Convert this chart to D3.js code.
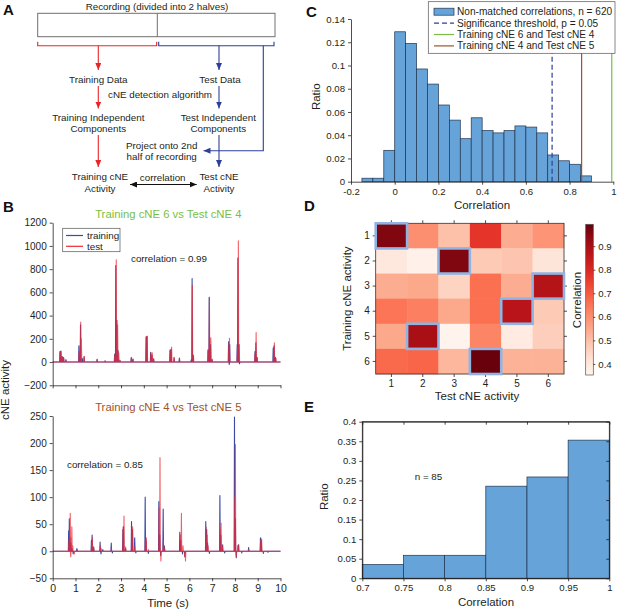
<!DOCTYPE html>
<html>
<head>
<meta charset="utf-8">
<script src="https://cdn.jsdelivr.net/npm/d3@7"></script>
<style>
  body { margin: 0; background: #fff; }
  svg { font-family: "Liberation Sans", Arial, sans-serif; }
  .tick text { fill: #231f20; }
</style>
</head>
<body>
<script>
// ---- panel B: spike data [time (s), activity]
var b1Training = [[0.32, 90], [0.36, 95], [0.42, 45], [0.48, 40], [0.58, 20],
  [1.15, 140], [1.22, 320], [1.3, 30], [1.38, 45], [1.95, 22], [2.3, 10],
  [2.72, 70], [2.77, 830], [2.82, 360], [2.87, 100], [2.95, 15], [3.45, 40], [3.52, 25],
  [4.1, 215], [4.14, 220], [4.3, 85], [4.36, 60], [4.43, 25],
  [5.15, 100], [5.2, 110], [5.33, 40], [5.56, 35],
  [6.08, 20], [6.12, 720], [6.17, 60], [6.82, 100], [6.87, 555], [6.93, 150], [7.0, 20],
  [7.72, 175], [7.75, -20], [7.77, 150], [8.1, 150], [8.13, 895], [8.17, 150], [8.2, -15],
  [8.88, 90], [8.92, 165], [8.97, 40], [9.68, 120], [9.72, 140], [9.78, 40]]
var b1Test = [[0.32, 85], [0.36, 90], [0.42, 45], [0.48, 35], [0.58, 20],
  [1.16, 90], [1.23, 345], [1.26, 200], [1.38, 50], [1.95, 25], [2.3, 10],
  [2.72, 60], [2.79, 880], [2.85, 320], [2.9, 80], [2.95, 15], [3.45, 35], [3.53, 25],
  [4.11, 220], [4.15, 225], [4.31, 80], [4.37, 80], [4.43, 30],
  [5.16, 110], [5.22, 130], [5.33, 35], [5.57, 30],
  [6.13, 660], [6.18, 50], [6.82, 110], [6.88, 560], [6.94, 210], [7.0, 25],
  [7.73, 160], [7.76, 205], [8.11, 120], [8.15, 1045], [8.19, 150],
  [8.88, 70], [8.93, 255], [8.98, 40], [9.7, 130], [9.73, 165], [9.8, 30]]
var b2Training = [[0.7, 38], [0.73, 60], [0.76, 25], [0.8, 15], [0.85, 5], [0.9, -5], [1.06, 5],
  [1.7, 20], [1.73, 30], [1.8, 8], [2.08, 17], [2.12, -5], [2.2, 3], [2.57, 15], [2.62, -3],
  [3.08, 40], [3.11, 45], [3.2, 5], [3.46, 55], [3.5, 40], [3.6, 25], [3.65, -3],
  [4.06, 100], [4.1, 20], [4.2, -4], [4.66, 92], [4.7, 30], [4.74, -8], [4.85, 78], [4.9, 10],
  [5.58, 35], [5.62, 20], [5.7, -5], [5.8, -10], [6.72, 55], [6.76, 40], [6.8, 15], [6.88, -4],
  [7.34, 103], [7.38, 30], [7.46, 12], [7.55, -3], [7.98, 248], [8.02, 60], [8.06, -12],
  [8.15, 12], [8.3, -3], [8.6, 7], [9.12, 25], [9.16, 20], [9.25, -4], [9.45, -2]]
var b2Test = [[0.71, 20], [0.74, 40], [0.77, 70], [0.79, -10], [0.81, 25], [0.84, 45], [0.88, 10],
  [0.95, -5], [1.08, 3], [1.71, 15], [1.74, 25], [1.8, 5], [2.09, 10], [2.13, 5], [2.58, 5],
  [3.09, 45], [3.13, 65], [3.2, 8], [3.47, 40], [3.51, 45], [3.6, 8],
  [4.07, 20], [4.11, 25], [4.2, 3], [4.67, 80], [4.71, 173], [4.75, -18], [4.86, 20], [4.92, 5],
  [5.6, 30], [5.65, 70], [5.72, 10], [5.8, -10], [5.83, -18], [6.73, 45], [6.78, 30], [6.82, 10],
  [7.35, 40], [7.39, 52], [7.45, 10], [7.99, 100], [8.02, 197], [8.06, -10], [8.12, 10], [8.17, 12],
  [8.6, 3], [9.13, 20], [9.17, 23], [9.25, -3]]

var b1YTicks = [-200, 0, 200, 400, 600, 800, 1000, 1200]
var b2YTicks = [-50, 0, 50, 100, 150, 200, 250]
var timeTicks = [0, 1, 2, 3, 4, 5, 6, 7, 8, 9, 10]

// ---- panel C: histogram of non-matched correlations
var cBinStarts = [-0.15, -0.1, -0.05, 0, 0.05, 0.1, 0.15, 0.2, 0.25, 0.3, 0.35, 0.4, 0.45,
  0.5, 0.55, 0.6, 0.65, 0.7, 0.75, 0.8, 0.85]
var cRatios = [0.003, 0.003, 0.027, 0.129, 0.119, 0.097, 0.084, 0.066, 0.053, 0.037, 0.055,
  0.044, 0.042, 0.044, 0.048, 0.047, 0.042, 0.023, 0.018, 0.015, 0.005]
var cThreshold = 0.72
var cPair64 = 0.993
var cPair45 = 0.855
var cXTicks = [-0.2, 0, 0.2, 0.4, 0.6, 0.8, 1]
var cYTicks = [0, 0.02, 0.04, 0.06, 0.08, 0.1, 0.12, 0.14]

// ---- panel D: correlation matrix (rows training cNE, cols test cNE)
var cneIds = [1, 2, 3, 4, 5, 6]
var corrMatrix = [
  [0.96, 0.60, 0.50, 0.77, 0.54, 0.59],
  [0.40, 0.37, 0.96, 0.48, 0.49, 0.41],
  [0.54, 0.55, 0.46, 0.66, 0.54, 0.88],
  [0.65, 0.63, 0.55, 0.66, 0.87, 0.48],
  [0.55, 0.90, 0.36, 0.62, 0.39, 0.47],
  [0.67, 0.68, 0.52, 0.99, 0.53, 0.53]
]
var matchedTest = [1, 3, 6, 5, 2, 4] // matched test cNE for each training cNE
var cbarTicks = [0.4, 0.5, 0.6, 0.7, 0.8, 0.9]

// ---- panel E: histogram of matched correlations
var eBinStarts = [0.7, 0.75, 0.8, 0.85, 0.9, 0.95]
var eRatios = [0.0353, 0.0588, 0.0588, 0.2353, 0.2588, 0.3529]
var eXTicks = [0.7, 0.75, 0.8, 0.85, 0.9, 0.95, 1]
var eYTicks = [0, 0.05, 0.1, 0.15, 0.2, 0.25, 0.3, 0.35, 0.4]

var RED = '#e8262a', BLUE = '#2e3f98', TRAIN = '#3a4aa6', TEST = '#ee2a33'
var BAR = '#66a3d8', BAR_EDGE = '#1f3550'
var GREEN = '#78c043', BROWN = '#a0522d'
var TXT = 9.8
var fmt = function (d) { return String(+d.toFixed(2)) }

var svg = d3.select('body').append('svg').attr('width', 617).attr('height', 613)

function letter(t, x, y) {
  svg.append('text').attr('x', x).attr('y', y).attr('font-size', 15)
    .attr('font-weight', 'bold').attr('fill', '#111').text(t)
}
function label(t, x, y, size, rot, color) {
  var el = svg.append('text').attr('text-anchor', 'middle').attr('font-size', size || TXT)
    .attr('fill', color || '#231f20').text(t)
  if (rot) el.attr('transform', 'translate(' + x + ',' + y + ') rotate(-90)')
  else el.attr('x', x).attr('y', y)
  return el
}
function styleAxis(g, size) {
  g.selectAll('path.domain').attr('stroke', '#231f20').attr('stroke-width', 0.8)
  g.selectAll('.tick line').attr('stroke', '#231f20').attr('stroke-width', 0.8)
  g.selectAll('.tick text').attr('font-size', size || 9.6).attr('font-family', null)
  return g
}

/**
 * panel A: diagram
 */
var defs = svg.append('defs')
;[['red', RED], ['blue', BLUE], ['black', '#111']].forEach(function (c) {
  defs.append('marker').attr('id', 'ah-' + c[0]).attr('markerUnits', 'userSpaceOnUse')
    .attr('markerWidth', 7).attr('markerHeight', 6).attr('refX', 7).attr('refY', 3)
    .attr('orient', 'auto-start-reverse')
    .append('path').attr('d', 'M0,0 L7,3 L0,6 z').attr('fill', c[1])
})
function arrow(x1, y1, x2, y2, color, both) {
  var l = svg.append('line').attr('x1', x1).attr('y1', y1).attr('x2', x2).attr('y2', y2)
    .attr('stroke', color === 'red' ? RED : color === 'blue' ? BLUE : '#111')
    .attr('stroke-width', 1.1).attr('marker-end', 'url(#ah-' + color + ')')
  if (both) l.attr('marker-start', 'url(#ah-' + color + ')')
}

letter('A', 3, 15)
label('Recording (divided into 2 halves)', 157, 10)
svg.append('rect').attr('x', 37.7).attr('y', 13.3).attr('width', 237.3).attr('height', 23.4)
  .attr('fill', 'none').attr('stroke', '#707070').attr('stroke-width', 1)
svg.append('line').attr('x1', 157.3).attr('x2', 157.3).attr('y1', 13.3).attr('y2', 36.7)
  .attr('stroke', '#707070')
svg.append('path').attr('d', 'M37.7,41.7 V45.7 H156.7 V41.7').attr('fill', 'none')
  .attr('stroke', RED).attr('stroke-width', 1.1)
svg.append('path').attr('d', 'M158.7,41.7 V45.7 H274 V41.7').attr('fill', 'none')
  .attr('stroke', BLUE).attr('stroke-width', 1.1)
arrow(98.3, 45.7, 98.3, 70, 'red')
arrow(219, 45.7, 219, 70, 'blue')
label('Training Data', 98.3, 82.5)
label('Test Data', 220, 82.5)
arrow(98.3, 86, 98.3, 108.5, 'red')
arrow(219, 86, 219, 108.5, 'blue')
label('cNE detection algorithm', 160, 97.5)
label('Training Independent', 98.3, 120.5)
label('Components', 98.3, 132)
label('Test Independent', 218.3, 120.5)
label('Components', 218.3, 132)
arrow(98.3, 135, 98.3, 167, 'red')
arrow(219, 135, 219, 167, 'blue')
svg.append('path').attr('d', 'M263.3,45.7 V150.7 H203.5').attr('fill', 'none')
  .attr('stroke', BLUE).attr('stroke-width', 1.1).attr('marker-end', 'url(#ah-blue)')
label('Project onto 2nd', 161.7, 148.5)
label('half of recording', 161.7, 159.5)
label('Training cNE', 100, 180)
label('Activity', 100, 191.5)
label('Test cNE', 219, 180)
label('Activity', 219, 191.5)
label('correlation', 162.7, 181)
arrow(130, 184.5, 196.7, 184.5, 'black', true)

/**
 * panel B: time series
 */
var xTime = d3.scaleLinear().domain([0, 10]).range([52.7, 280.5])

function spikePath(spikes) {
  var w = 0.014
  var pts = [[0, 0]]
  spikes.forEach(function (s) {
    pts.push([s[0] - w, 0], [s[0], s[1]], [s[0] + w, 0])
  })
  pts.push([10, 0])
  return pts
}

function tracePanel(y, yTicks, training, test, showX) {
  var line = d3.line().x(function (d) { return xTime(d[0]) }).y(function (d) { return y(d[1]) })
  svg.append('path').datum(spikePath(training)).attr('d', line).attr('fill', 'none')
    .attr('stroke', TRAIN).attr('stroke-width', 1.1).attr('stroke-linejoin', 'round')
  svg.append('path').datum(spikePath(test)).attr('d', line).attr('fill', 'none')
    .attr('stroke', TEST).attr('stroke-width', 1.1).attr('stroke-opacity', 0.75)
    .attr('stroke-linejoin', 'round')
  styleAxis(svg.append('g').attr('transform', 'translate(' + xTime(0) + ',0)')
    .call(d3.axisLeft(y).tickValues(yTicks).tickFormat(d3.format('d'))
      .tickSize(3).tickSizeOuter(0).tickPadding(3)), 10)
  var ax = d3.axisBottom(xTime).tickValues(timeTicks).tickSize(3).tickSizeOuter(0).tickPadding(3)
  if (!showX) ax.tickFormat('')
  styleAxis(svg.append('g').attr('transform', 'translate(0,' + y.range()[0] + ')').call(ax), 10.5)
}

letter('B', 3, 212)
var yB1 = d3.scaleLinear().domain([-200, 1200]).range([385.3, 222.7])
tracePanel(yB1, b1YTicks, b1Training, b1Test, false)
label('Training cNE 6 vs Test cNE 4', 168.3, 218, 11.3, false, GREEN)
svg.append('rect').attr('x', 62.7).attr('y', 228.3).attr('width', 57.3).attr('height', 23.4)
  .attr('fill', '#fff').attr('stroke', '#555').attr('stroke-width', 0.7)
;[['training', TRAIN, 235.5], ['test', TEST, 246.3]].forEach(function (e) {
  svg.append('line').attr('x1', 66).attr('x2', 83).attr('y1', e[2]).attr('y2', e[2])
    .attr('stroke', e[1]).attr('stroke-width', 1.2)
  svg.append('text').attr('x', 87).attr('y', e[2] + 3.3).attr('font-size', TXT)
    .attr('fill', '#231f20').text(e[0])
})
label('correlation = 0.99', 169, 262)

var yB2 = d3.scaleLinear().domain([-50, 250]).range([578.3, 416])
tracePanel(yB2, b2YTicks, b2Training, b2Test, true)
label('Training cNE 4 vs Test cNE 5', 168.3, 411, 11.3, false, BROWN)
label('correlation = 0.85', 105, 467.5)
label('cNE activity', 9, 390, 11.5, true)
label('Time (s)', 168, 607, 11.5)

/**
 * panel C: histogram
 */
letter('C', 306, 17)
var xC = d3.scaleLinear().domain([-0.2, 1]).range([351, 613.3])
var yC = d3.scaleLinear().domain([0, 0.14]).range([181.7, 19])
svg.append('g').selectAll('rect').data(cBinStarts).join('rect')
  .attr('x', function (d) { return xC(d) })
  .attr('width', function (d) { return xC(d + 0.05) - xC(d) })
  .attr('y', function (d, i) { return yC(cRatios[i]) })
  .attr('height', function (d, i) { return yC(0) - yC(cRatios[i]) })
  .attr('fill', BAR).attr('stroke', BAR_EDGE).attr('stroke-width', 0.7)
svg.append('line').attr('x1', xC(cThreshold)).attr('x2', xC(cThreshold))
  .attr('y1', yC(0)).attr('y2', yC(0.14)).attr('stroke', BLUE).attr('stroke-width', 1.2)
  .attr('stroke-dasharray', '5,3')
svg.append('line').attr('x1', xC(cPair45)).attr('x2', xC(cPair45))
  .attr('y1', yC(0)).attr('y2', yC(0.14)).attr('stroke', BROWN).attr('stroke-width', 1.2)
svg.append('line').attr('x1', xC(cPair64)).attr('x2', xC(cPair64))
  .attr('y1', yC(0)).attr('y2', yC(0.14)).attr('stroke', GREEN).attr('stroke-width', 1.2)
styleAxis(svg.append('g').attr('transform', 'translate(' + xC(-0.2) + ',0)')
  .call(d3.axisLeft(yC).tickValues(cYTicks).tickFormat(fmt).tickSize(3).tickSizeOuter(0)))
styleAxis(svg.append('g').attr('transform', 'translate(0,' + yC(0) + ')')
  .call(d3.axisBottom(xC).tickValues(cXTicks).tickFormat(fmt).tickSize(3).tickSizeOuter(0)))
label('Ratio', 320, 96.7, 11.5, true)
label('Correlation', 482, 209, 11.5)

var leg = svg.append('g')
leg.append('rect').attr('x', 428.3).attr('y', 1.7).attr('width', 186.7).attr('height', 51.6)
  .attr('fill', '#fff').attr('stroke', '#555').attr('stroke-width', 0.7)
var legItems = [
  ['bar', 'Non-matched correlations, n = 620', BAR],
  ['dash', 'Significance threshold, p = 0.05', BLUE],
  ['line', 'Training cNE 6 and Test cNE 4', GREEN],
  ['line', 'Training cNE 4 and Test cNE 5', BROWN]
]
legItems.forEach(function (e, i) {
  var yy = 11.7 + i * 11.4
  if (e[0] === 'bar') {
    leg.append('rect').attr('x', 434).attr('y', yy - 3.5).attr('width', 20).attr('height', 7)
      .attr('fill', BAR).attr('stroke', BAR_EDGE).attr('stroke-width', 0.7)
  } else {
    leg.append('line').attr('x1', 434).attr('x2', 454).attr('y1', yy).attr('y2', yy)
      .attr('stroke', e[2]).attr('stroke-width', 1.2)
      .attr('stroke-dasharray', e[0] === 'dash' ? '5,3' : null)
  }
  leg.append('text').attr('x', 457).attr('y', yy + 3.4).attr('font-size', 10.1)
    .attr('fill', '#231f20').text(e[1])
})

/**
 * panel D: heat map
 */
letter('D', 304, 211)
var xD = d3.scaleBand().domain(cneIds).range([375.7, 564])
var yD = d3.scaleBand().domain(cneIds).range([223.3, 374])
var cmin = 0.353, cmax = 0.993
var color = d3.scaleSequential(d3.interpolateReds).domain([cmin, cmax])
var cells = []
corrMatrix.forEach(function (row, r) {
  row.forEach(function (v, c) { cells.push({ r: cneIds[r], c: cneIds[c], v: v }) })
})
svg.append('g').selectAll('rect').data(cells).join('rect')
  .attr('x', function (d) { return xD(d.c) }).attr('y', function (d) { return yD(d.r) })
  .attr('width', xD.bandwidth() + 0.3).attr('height', yD.bandwidth() + 0.3)
  .attr('fill', function (d) { return color(d.v) })
svg.append('rect').attr('x', 375.7).attr('y', 223.3).attr('width', 564 - 375.7)
  .attr('height', 374 - 223.3).attr('fill', 'none').attr('stroke', '#333').attr('stroke-width', 0.8)
var dTicks = function (g, axis) {
  styleAxis(g.call(axis.tickSize(3).tickSizeOuter(0)), 10)
  g.select('path.domain').remove()
  return g
}
dTicks(svg.append('g').attr('transform', 'translate(0,374)'), d3.axisBottom(xD))
dTicks(svg.append('g').attr('transform', 'translate(0,223.3)'), d3.axisTop(xD).tickFormat(''))
dTicks(svg.append('g').attr('transform', 'translate(375.7,0)'), d3.axisLeft(yD))
dTicks(svg.append('g').attr('transform', 'translate(564,0)'), d3.axisRight(yD).tickFormat(''))
svg.append('g').selectAll('rect').data(matchedTest).join('rect')
  .attr('x', function (d) { return xD(d) }).attr('y', function (d, i) { return yD(cneIds[i]) })
  .attr('width', xD.bandwidth()).attr('height', yD.bandwidth())
  .attr('fill', 'none').attr('stroke', '#8fb4e3').attr('stroke-width', 2.6)
label('Training cNE activity', 351, 298.6, 11.5, true)
label('Test cNE activity', 477, 400, 11.5)

// colour bar
var cbY = d3.scaleLinear().domain([cmin, cmax]).range([375, 224.3])
var grad = defs.append('linearGradient').attr('id', 'cbar').attr('x1', 0).attr('x2', 0)
  .attr('y1', 1).attr('y2', 0)
d3.range(0, 1.0001, 0.1).forEach(function (t) {
  grad.append('stop').attr('offset', t).attr('stop-color', color(cmin + t * (cmax - cmin)))
})
svg.append('rect').attr('x', 585.7).attr('y', 224.3).attr('width', 7.6).attr('height', 150.7)
  .attr('fill', 'url(#cbar)').attr('stroke', '#555').attr('stroke-width', 0.7)
var cbAxis = svg.append('g').attr('transform', 'translate(593.3,0)')
  .call(d3.axisRight(cbY).tickValues(cbarTicks).tickFormat(fmt).tickSize(2).tickSizeOuter(0))
styleAxis(cbAxis).select('path.domain').remove()
label('Correlation', 581, 300, 11.5, true)

/**
 * panel E: histogram
 */
letter('E', 304, 412)
var xE = d3.scaleLinear().domain([0.7, 1]).range([362.3, 609.3])
var yE = d3.scaleLinear().domain([0, 0.4]).range([578.3, 421.7])
svg.append('g').selectAll('rect').data(eBinStarts).join('rect')
  .attr('x', function (d) { return xE(d) })
  .attr('width', function (d) { return xE(d + 0.05) - xE(d) })
  .attr('y', function (d, i) { return yE(eRatios[i]) })
  .attr('height', function (d, i) { return yE(0) - yE(eRatios[i]) })
  .attr('fill', BAR).attr('stroke', BAR_EDGE).attr('stroke-width', 0.7)
svg.append('rect').attr('x', 362.3).attr('y', 421.7).attr('width', 247).attr('height', 156.6)
  .attr('fill', 'none').attr('stroke', '#231f20').attr('stroke-width', 0.8)
styleAxis(svg.append('g').attr('transform', 'translate(362.3,0)')
  .call(d3.axisLeft(yE).tickValues(eYTicks).tickFormat(fmt).tickSize(3).tickSizeOuter(0)))
styleAxis(svg.append('g').attr('transform', 'translate(0,578.3)')
  .call(d3.axisBottom(xE).tickValues(eXTicks).tickFormat(fmt).tickSize(3).tickSizeOuter(0)))
styleAxis(svg.append('g').attr('transform', 'translate(609.3,0)')
  .call(d3.axisLeft(yE).tickValues(eYTicks).tickFormat('').tickSize(3).tickSizeOuter(0)))
styleAxis(svg.append('g').attr('transform', 'translate(0,421.7)')
  .call(d3.axisBottom(xE).tickValues(eXTicks).tickFormat('').tickSize(3).tickSizeOuter(0)))
label('Ratio', 328, 496.7, 11.5, true)
label('Correlation', 486, 606, 11.5)
label('n = 85', 428.5, 479.5)
</script>
</body>
</html>
